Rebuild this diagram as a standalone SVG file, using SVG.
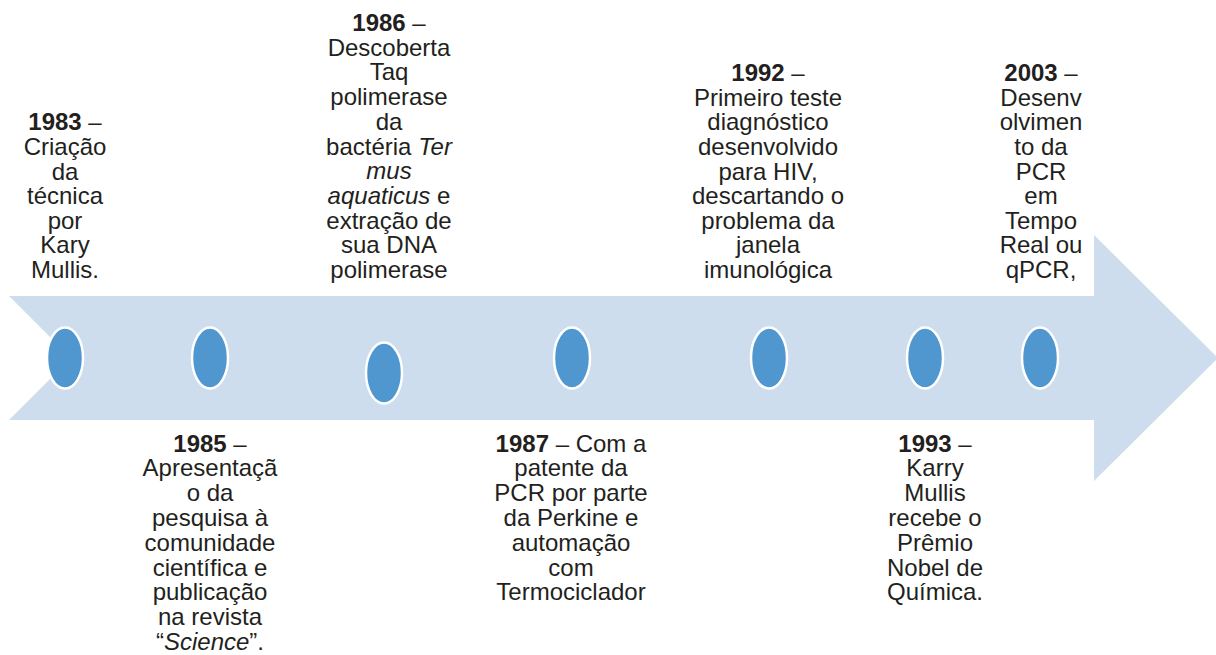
<svg xmlns="http://www.w3.org/2000/svg" width="1216" height="655" viewBox="0 0 1216 655">
<style>
text{font-family:"Liberation Sans",Arial,sans-serif;font-size:24px;fill:#231F20;text-anchor:middle}
.b{font-weight:bold}
.i{font-style:italic}
.dot{fill:#5097D0;stroke:#FFFFFF;stroke-width:2.5}
</style>
<rect width="1216" height="655" fill="#FFFFFF"/>
<g id="connectors">
<polygon id="arrow" points="9,296 1094,296 1094,235 1218,358 1094,481 1094,420 9,420 71,358" fill="#CEDDEE"/>
</g>
<g id="e1983">
<ellipse class="dot" cx="65" cy="358" rx="18" ry="30.5"/>
<text x="65" y="130.4"><tspan class="b">1983</tspan> –<tspan x="65" dy="24.6">Criação</tspan><tspan x="65" dy="24.6">da</tspan><tspan x="65" dy="24.6">técnica</tspan><tspan x="65" dy="24.6">por</tspan><tspan x="65" dy="24.6">Kary</tspan><tspan x="65" dy="24.6">Mullis.</tspan></text>
</g>
<g id="e1985">
<ellipse class="dot" cx="210" cy="358" rx="18" ry="30.5"/>
<text x="210" y="451.5"><tspan class="b">1985</tspan> –<tspan x="210" dy="24.8">Apresentaçã</tspan><tspan x="210" dy="24.8">o da</tspan><tspan x="210" dy="24.8">pesquisa à</tspan><tspan x="210" dy="24.8">comunidade</tspan><tspan x="210" dy="24.8">científica e</tspan><tspan x="210" dy="24.8">publicação</tspan><tspan x="210" dy="24.8">na revista</tspan><tspan x="210" dy="24.8">“<tspan class="i">Science</tspan>”.</tspan></text>
</g>
<g id="e1986">
<ellipse class="dot" cx="384" cy="373" rx="18" ry="30.5"/>
<text x="389" y="31"><tspan class="b">1986</tspan> –<tspan x="389" dy="24.7">Descoberta</tspan><tspan x="389" dy="24.7">Taq</tspan><tspan x="389" dy="24.7">polimerase</tspan><tspan x="389" dy="24.7">da</tspan><tspan x="389" dy="24.7">bactéria <tspan class="i">Ter</tspan></tspan><tspan x="389" dy="24.7" class="i">mus</tspan><tspan x="389" dy="24.7"><tspan class="i">aquaticus</tspan> e</tspan><tspan x="389" dy="24.7">extração de</tspan><tspan x="389" dy="24.7">sua DNA</tspan><tspan x="389" dy="24.7">polimerase</tspan></text>
</g>
<g id="e1987">
<ellipse class="dot" cx="572" cy="358" rx="18" ry="30.5"/>
<text x="571" y="451.5"><tspan class="b">1987</tspan> – Com a<tspan x="571" dy="24.8">patente da</tspan><tspan x="571" dy="24.8">PCR por parte</tspan><tspan x="571" dy="24.8">da Perkine e</tspan><tspan x="571" dy="24.8">automação</tspan><tspan x="571" dy="24.8">com</tspan><tspan x="571" dy="24.8">Termociclador</tspan></text>
</g>
<g id="e1992">
<ellipse class="dot" cx="769" cy="358" rx="18" ry="30.5"/>
<text x="768" y="81.2"><tspan class="b">1992</tspan> –<tspan x="768" dy="24.6">Primeiro teste</tspan><tspan x="768" dy="24.6">diagnóstico</tspan><tspan x="768" dy="24.6">desenvolvido</tspan><tspan x="768" dy="24.6">para HIV,</tspan><tspan x="768" dy="24.6">descartando o</tspan><tspan x="768" dy="24.6">problema da</tspan><tspan x="768" dy="24.6">janela</tspan><tspan x="768" dy="24.6">imunológica</tspan></text>
</g>
<g id="e1993">
<ellipse class="dot" cx="925" cy="358" rx="18" ry="30.5"/>
<text x="935" y="451.5"><tspan class="b">1993</tspan> –<tspan x="935" dy="24.8">Karry</tspan><tspan x="935" dy="24.8">Mullis</tspan><tspan x="935" dy="24.8">recebe o</tspan><tspan x="935" dy="24.8">Prêmio</tspan><tspan x="935" dy="24.8">Nobel de</tspan><tspan x="935" dy="24.8">Química.</tspan></text>
</g>
<g id="e2003">
<ellipse class="dot" cx="1040" cy="358" rx="18" ry="30.5"/>
<text x="1041" y="81.2"><tspan class="b">2003</tspan> –<tspan x="1041" dy="24.6">Desenv</tspan><tspan x="1041" dy="24.6">olvimen</tspan><tspan x="1041" dy="24.6">to da</tspan><tspan x="1041" dy="24.6">PCR</tspan><tspan x="1041" dy="24.6">em</tspan><tspan x="1041" dy="24.6">Tempo</tspan><tspan x="1041" dy="24.6">Real ou</tspan><tspan x="1041" dy="24.6">qPCR,</tspan></text>
</g>
</svg>
